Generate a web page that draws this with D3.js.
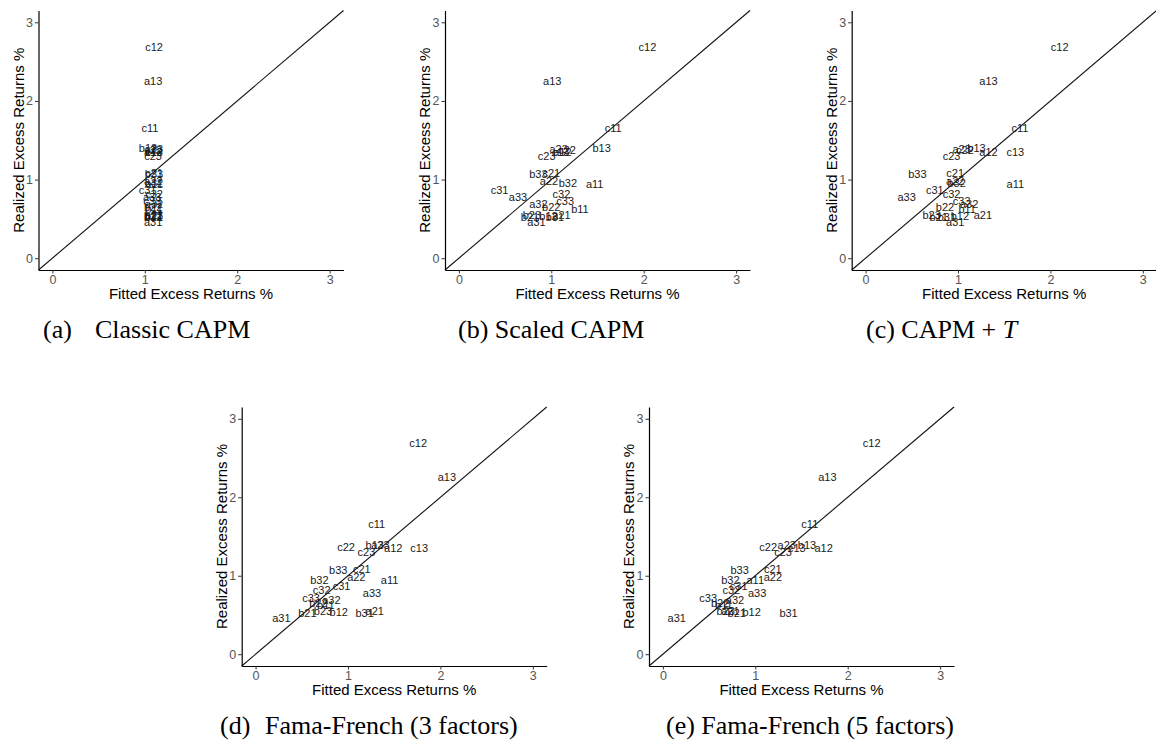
<!DOCTYPE html>
<html><head><meta charset="utf-8">
<script src="https://cdn.jsdelivr.net/npm/d3@7"></script>
<style>body{margin:0;background:#fff}svg{display:block}</style>
</head><body><svg id="chart" width="1156" height="741"></svg>
<script>
// ---- data ----
const portfolios = ["a11","a12","a13","a21","a22","a23","a31","a32","a33",
                    "b11","b12","b13","b21","b22","b23","b31","b32","b33",
                    "c11","c12","c13","c21","c22","c23","c31","c32","c33"];
const realized = [0.94,1.35,2.255,0.55,0.985,1.385,0.455,0.69,0.775,
                  0.62,0.535,1.395,0.525,0.645,0.55,0.52,0.95,1.065,
                  1.655,2.69,1.35,1.08,1.37,1.30,0.87,0.815,0.72];
const fittedClassic = [1.10,1.09,1.09,1.10,1.09,1.10,1.09,1.10,1.08,
                       1.10,1.09,1.035,1.10,1.09,1.10,1.09,1.10,1.10,
                       1.055,1.10,1.10,1.10,1.09,1.09,1.03,1.10,1.08];
const fittedScaled = [1.47,1.12,1.01,1.11,0.975,1.08,0.84,0.86,0.64,
                      1.31,0.97,1.545,0.77,1.0,0.79,1.04,1.18,0.86,
                      1.67,2.04,1.10,1.0,1.17,0.95,0.44,1.11,1.15];
const fittedCapmT = [1.62,1.33,1.33,1.27,0.97,1.04,0.97,1.12,0.445,
                     1.10,1.02,1.20,0.79,0.86,0.715,0.88,0.985,0.56,
                     1.67,2.10,1.62,0.97,1.075,0.93,0.75,0.93,1.04];
const fittedFF3 = [1.45,1.49,2.07,1.29,1.09,1.35,0.28,0.82,1.26,
                   0.76,0.90,1.29,0.56,0.68,0.73,1.18,0.69,0.895,
                   1.31,1.76,1.77,1.15,0.98,1.20,0.93,0.715,0.60];
const fittedFF5 = [1.0,1.74,1.78,0.73,1.19,1.34,0.15,0.78,1.02,
                   0.66,0.96,1.56,0.80,0.62,0.68,1.36,0.73,0.83,
                   1.59,2.26,1.45,1.19,1.14,1.30,0.82,0.74,0.49];
const tickValues = [0,1,2,3];
const axisLimits = [-0.15,3.15];
const xTitle = "Fitted Excess Returns %";
const yTitle = "Realized Excess Returns %";

// ---- layout ----
const W = 305;
const panels = [
  {fitted: fittedClassic, x0: 38.5, top: 10.5, bottom: 270, capY: 338,
   cap: [{t:"(a)", x:43},{t:"Classic CAPM", x:95}]},
  {fitted: fittedScaled, x0: 445, top: 10.5, bottom: 270, capY: 338,
   cap: [{t:"(b) Scaled CAPM", x:458}]},
  {fitted: fittedCapmT, x0: 851.7, top: 10.5, bottom: 270, capY: 338,
   cap: [{t:"(c) CAPM + ", x:866},{t:"T", italic:true}]},
  {fitted: fittedFF3, x0: 241.7, top: 407, bottom: 666, capY: 733.5,
   cap: [{t:"(d)", x:220},{t:"Fama-French (3 factors)", x:265}]},
  {fitted: fittedFF5, x0: 649, top: 407, bottom: 666, capY: 733.5,
   cap: [{t:"(e) Fama-French (5 factors)", x:666}]}
];

const svg = d3.select("#chart");
const sans = "'Liberation Sans', Arial, sans-serif";
const serif = "'Liberation Serif', 'Times New Roman', serif";

panels.forEach(p => {
  const x = d3.scaleLinear().domain(axisLimits).range([p.x0, p.x0 + W]);
  const y = d3.scaleLinear().domain(axisLimits).range([p.bottom, p.top]);
  const g = svg.append("g");

  // diagonal 45-degree line
  g.append("line")
    .attr("x1", x(axisLimits[0])).attr("y1", y(axisLimits[0]))
    .attr("x2", x(axisLimits[1])).attr("y2", y(axisLimits[1]))
    .attr("stroke", "#111").attr("stroke-width", 1.1);

  // labels
  g.append("g").selectAll("text").data(portfolios).join("text")
    .attr("x", (d, i) => x(p.fitted[i]))
    .attr("y", (d, i) => y(realized[i]))
    .attr("dy", "0.35em")
    .attr("text-anchor", "middle")
    .attr("font-family", sans).attr("font-size", 11)
    .attr("fill", "#1a1a1a")
    .text(d => d);

  // axes
  const xa = g.append("g").attr("transform", `translate(0,${p.bottom})`)
    .call(d3.axisBottom(x).tickValues(tickValues).tickSize(3.5).tickSizeOuter(0).tickPadding(2).tickFormat(d3.format("d")));
  const ya = g.append("g").attr("transform", `translate(${p.x0},0)`)
    .call(d3.axisLeft(y).tickValues(tickValues).tickSize(3.5).tickSizeOuter(0).tickPadding(2).tickFormat(d3.format("d")));
  [xa, ya].forEach(a => {
    a.select(".domain").attr("stroke", "#000").attr("stroke-width", 1.2);
    a.selectAll(".tick line").attr("stroke", "#333");
    a.selectAll(".tick text").attr("fill", "#555").attr("font-family", sans).attr("font-size", 12.5);
  });

  // axis titles
  g.append("text").attr("x", p.x0 + W / 2).attr("y", p.bottom + 29)
    .attr("text-anchor", "middle").attr("font-family", sans).attr("font-size", 15)
    .attr("fill", "#000").text(xTitle);
  g.append("text")
    .attr("transform", `translate(${p.x0 - 15},${(p.top + p.bottom) / 2}) rotate(-90)`)
    .attr("text-anchor", "middle").attr("font-family", sans).attr("font-size", 15)
    .attr("fill", "#000").text(yTitle);

  // caption
  const cap = g.append("text").attr("y", p.capY)
    .attr("font-family", serif).attr("font-size", 26).attr("fill", "#000");
  p.cap.forEach(c => {
    const ts = cap.append("tspan").text(c.t);
    if (c.x !== undefined) ts.attr("x", c.x);
    if (c.italic) ts.attr("font-style", "italic");
  });
});
</script></body></html>
